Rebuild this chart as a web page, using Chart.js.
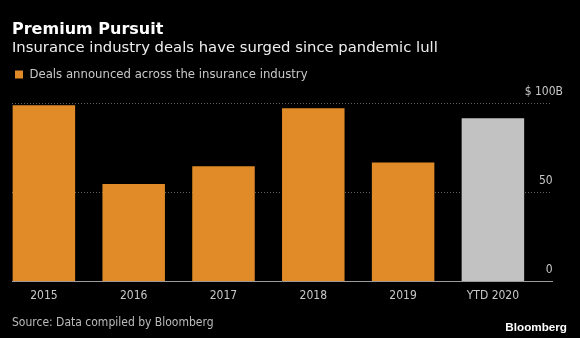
<!DOCTYPE html>
<html>
<head>
<meta charset="utf-8">
<script src="https://cdn.jsdelivr.net/npm/chart.js@4.4.1/dist/chart.umd.min.js"></script>
<style>
  html, body { margin: 0; padding: 0; background: #000; }
  #wrap { position: relative; width: 580px; height: 338px; overflow: hidden; background: #000; }
  #chart { position: absolute; left: 0; top: 0; }
  .t { position: absolute; white-space: nowrap; }
  #title { left: 12px; top: 20.5px; font: bold 16px/16px 'DejaVu Sans'; color: #fff; }
  #subtitle { left: 12px; top: 40.2px; font: 14.8px/14.8px 'DejaVu Sans'; color: #eee; }
  #source { left: 12px; top: 315.5px; font: 12px/12px 'DejaVu Sans Condensed', 'DejaVu Sans'; color: #bbb; }
  #logo { right: 13px; top: 321px; font: bold 11.7px/11.7px 'Liberation Sans'; color: #fff; }
</style>
</head>
<body>
<div id="wrap">
  <canvas id="chart" width="580" height="338"></canvas>
  <div class="t" id="title">Premium Pursuit</div>
  <div class="t" id="subtitle">Insurance industry deals have surged since pandemic lull</div>
  <div class="t" id="source">Source: Data compiled by Bloomberg</div>
  <div class="t" id="logo">Bloomberg</div>
</div>
<script>
// данные (млрд $)
const categories = ['2015', '2016', '2017', '2018', '2019', 'YTD 2020'];
const deals = [99.3, 55, 65, 97.6, 67, 92];
const yTicks = [0, 50, 100];
const seriesLabel = 'Deals announced across the insurance industry';

const ORANGE = '#e08b27';
const GRAY = '#c2c2c2';
const FONT = "'DejaVu Sans Condensed', 'DejaVu Sans'";

const ctx = document.getElementById('chart');

new Chart(ctx, {
    type: 'bar',
    data: {
        datasets: [{
            label: seriesLabel,
            data: deals.map((v, i) => ({ x: i, y: v })),
            backgroundColor: categories.map(c => c.startsWith('YTD') ? GRAY : ORANGE),
            borderWidth: 0,
            barPercentage: 0.696,
            categoryPercentage: 1
        }]
    },
    options: {
        responsive: false,
        devicePixelRatio: 1,
        animation: false,
        layout: { padding: { top: 65, left: 12, right: 28, bottom: 28 } },
        plugins: {
            tooltip: { enabled: false },
            legend: {
                position: 'top',
                align: 'start',
                labels: {
                    boxWidth: 8,
                    boxHeight: 8,
                    padding: 3,
                    color: '#c8c8c8',
                    font: { family: FONT, size: 13 }
                }
            }
        },
        scales: {
            x: {
                type: 'linear',
                offset: false,
                min: -0.355,
                max: 5.658,
                afterBuildTicks: scale => {
                    scale.ticks = categories.map((c, i) => ({ value: i }));
                },
                grid: { display: false, drawTicks: false, offset: false },
                border: { color: '#9a9a9a', width: 1 },
                ticks: {
                    callback: v => categories[v],
                    color: '#c8c8c8',
                    padding: 7,
                    maxRotation: 0,
                    autoSkip: false,
                    font: { family: FONT, size: 12 }
                }
            },
            y: {
                position: 'right',
                min: 0,
                max: 107.3,
                afterBuildTicks: scale => {
                    scale.ticks = yTicks.map(v => ({ value: v }));
                },
                afterFit: scale => { scale.width = 0; },
                grid: {
                    drawTicks: false,
                    color: c => c.tick && c.tick.value === 0 ? 'rgba(0,0,0,0)' : '#5e5e5e'
                },
                border: { display: false, dash: [1, 2] },
                ticks: {
                    callback: v => v === 100 ? '$ 100B' : v + '   ',
                    mirror: true,
                    crossAlign: 'near',
                    padding: 11,
                    labelOffset: -12,
                    color: '#c8c8c8',
                    font: { family: FONT, size: 12 }
                }
            }
        }
    }
});
</script>
</body>
</html>
